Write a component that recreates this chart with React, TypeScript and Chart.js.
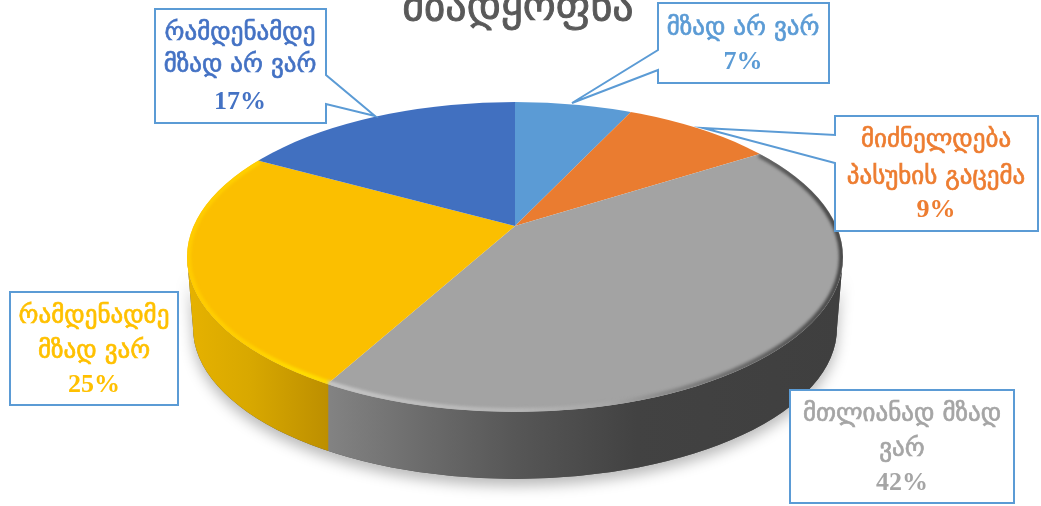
import React, { useEffect, useRef } from "react";
import { Chart, registerables } from "chart.js";

Chart.register(...registerables);

// ---------- data ----------
const titleText = "მზადყოფნა";
const categories = ["მზად არ ვარ", "მიძნელდება პასუხის გაცემა", "მთლიანად მზად ვარ", "რამდენადმე მზად ვარ", "რამდენამდე მზად არ ვარ"];
const categoryLines = [
  ["მზად არ ვარ"],
  ["მიძნელდება", "პასუხის გაცემა"],
  ["მთლიანად მზად", "ვარ"],
  ["რამდენადმე", "მზად ვარ"],
  ["რამდენამდე", "მზად არ ვარ"],
];
const values = [7, 9, 42, 25, 17];
const sliceColors = ["#5b9bd5", "#ea7c30", "#a3a3a3", "#fbbf00", "#4170c0"];
const textColors = ["#5b9bd5", "#ed7d31", "#a5a5a5", "#ffc000", "#4472c4"];

// ---------- layout of the drawing ----------
const W = 1041, H = 506;
const APEX = { x: 515, y: 226 };
const TOP = { x: 515, y: 257, rx: 328, ry: 155 };
const BOT = { x: 515, y: 328, rx: 322, ry: 151 };
const K = 0.463;
const SCALE_R = 430;
const FONT = '"DejaVu Sans"';

type Box = { x: number; y: number; w: number; h: number; cx: number; ys: number[]; tail?: { side: "l" | "r"; a: number; b: number; tx: number; ty: number } };
const boxes: Box[] = [
  { x: 658, y: 3, w: 171, h: 80, cx: 743, ys: [28, 62], tail: { side: "l", a: 50, b: 70, tx: 572, ty: 103 } },
  { x: 835, y: 116, w: 203, h: 115, cx: 936, ys: [140, 177, 210], tail: { side: "l", a: 135, b: 163, tx: 703, ty: 128 } },
  { x: 790, y: 390, w: 224, h: 113, cx: 902, ys: [414, 449, 483] },
  { x: 10, y: 292, w: 168, h: 113, cx: 94, ys: [316, 351, 385] },
  { x: 155, y: 9, w: 171, h: 114, cx: 240, ys: [33, 65, 102], tail: { side: "r", a: 75, b: 104, tx: 375, ty: 116 } },
];

// where a slice boundary (fraction of the full turn) meets the top ellipse
function edgePoint(frac: number) {
  const a = frac * Math.PI * 2;
  const dx = Math.sin(a), dy = -K * Math.cos(a);
  const ox = (APEX.x - TOP.x) / TOP.rx, oy = (APEX.y - TOP.y) / TOP.ry;
  const ux = dx / TOP.rx, uy = dy / TOP.ry;
  const A = ux * ux + uy * uy, B = 2 * (ox * ux + oy * uy), C = ox * ox + oy * oy - 1;
  const t = (-B + Math.sqrt(B * B - 4 * A * C)) / (2 * A);
  const x = APEX.x + dx * t, y = APEX.y + dy * t;
  return { x, y, param: Math.atan2((y - TOP.y) / TOP.ry, (x - TOP.x) / TOP.rx) };
}

function cumulative(n: number) {
  const total = values.reduce((s, v) => s + v, 0);
  return values.slice(0, n).reduce((s, v) => s + v, 0) / total;
}

function wallPath(ctx: CanvasRenderingContext2D) {
  ctx.beginPath();
  ctx.ellipse(TOP.x, TOP.y, TOP.rx, TOP.ry, 0, Math.PI, 0, true);
  ctx.lineTo(BOT.x + BOT.rx, BOT.y);
  ctx.ellipse(BOT.x, BOT.y, BOT.rx, BOT.ry, 0, 0, Math.PI, false);
  ctx.closePath();
}

const pie3d = {
  id: "pie3d",
  beforeDatasetsDraw(chart: any) {
    const ctx: CanvasRenderingContext2D = chart.ctx;
    const arc = chart.getDatasetMeta(0).data[0];
    const split = edgePoint(cumulative(3)).x;

    // drop shadow under the disc
    ctx.save();
    ctx.shadowColor = "rgba(0,0,0,0.28)";
    ctx.shadowBlur = 14;
    ctx.shadowOffsetY = 7;
    ctx.fillStyle = "#555";
    wallPath(ctx);
    ctx.fill();
    ctx.restore();

    // side wall
    const grayWall = ctx.createLinearGradient(split, 0, TOP.x + TOP.rx, 0);
    grayWall.addColorStop(0, "#838383");
    grayWall.addColorStop(0.19, "#6b6b6b");
    grayWall.addColorStop(0.37, "#565656");
    grayWall.addColorStop(0.6, "#424242");
    grayWall.addColorStop(1, "#3f3f3f");
    const yellowWall = ctx.createLinearGradient(TOP.x - TOP.rx, 0, split, 0);
    yellowWall.addColorStop(0, "#e6b200");
    yellowWall.addColorStop(0.45, "#d8a800");
    yellowWall.addColorStop(1, "#bd8f00");

    ctx.save();
    wallPath(ctx);
    ctx.clip();
    ctx.fillStyle = grayWall;
    ctx.fillRect(split, 0, W - split, H);
    ctx.fillStyle = yellowWall;
    ctx.fillRect(0, 0, split + 1, H);
    ctx.restore();

    // map the library's pie onto the tilted disc
    ctx.save();
    ctx.beginPath();
    ctx.ellipse(TOP.x, TOP.y, TOP.rx, TOP.ry, 0, 0, Math.PI * 2);
    ctx.clip();
    const s = SCALE_R / arc.outerRadius;
    ctx.translate(APEX.x, APEX.y);
    ctx.scale(s, s * K);
    ctx.translate(-arc.x, -arc.y);
  },
  afterDatasetsDraw(chart: any) {
    const ctx: CanvasRenderingContext2D = chart.ctx;
    ctx.restore();

    // bevel along the front rim
    const from = edgePoint(cumulative(2)).param;
    const to = edgePoint(cumulative(4)).param;
    const split = edgePoint(cumulative(3)).x;
    const f = (x: number) => (x - (TOP.x - TOP.rx)) / (2 * TOP.rx);
    const rim = ctx.createLinearGradient(TOP.x - TOP.rx, 0, TOP.x + TOP.rx, 0);
    rim.addColorStop(0, "#ffcc00");
    rim.addColorStop(f(250), "#ffd000");
    rim.addColorStop(f(split - 25), "#ffde00");
    rim.addColorStop(f(split), "#ffde00");
    rim.addColorStop(f(split + 2), "#c6c6c6");
    rim.addColorStop(f(520), "#b6b6b6");
    rim.addColorStop(f(610), "#a6a6a6");
    rim.addColorStop(f(700), "#777");
    rim.addColorStop(f(790), "#555");
    rim.addColorStop(1, "#444");
    ctx.save();
    ctx.beginPath();
    ctx.ellipse(TOP.x, TOP.y, TOP.rx, TOP.ry, 0, 0, Math.PI * 2);
    ctx.clip();
    (ctx as any).filter = "blur(1.5px)";
    ctx.strokeStyle = rim;
    ctx.lineWidth = 5;
    ctx.beginPath();
    ctx.ellipse(TOP.x, TOP.y, TOP.rx - 1.5, TOP.ry - 1.5, 0, from, to < from ? to + Math.PI * 2 : to);
    ctx.stroke();
    ctx.restore();

    // title, cut by the top of the picture
    ctx.save();
    ctx.fillStyle = "#595959";
    ctx.strokeStyle = "#595959";
    ctx.lineWidth = 0.9;
    ctx.font = `42px ${FONT}`;
    ctx.textAlign = "center";
    ctx.textBaseline = "alphabetic";
    ctx.fillText(titleText, 518, 20);
    ctx.strokeText(titleText, 518, 20);
    ctx.restore();

    // callouts
    boxes.forEach((b, i) => {
      ctx.save();
      ctx.beginPath();
      ctx.moveTo(b.x, b.y);
      ctx.lineTo(b.x + b.w, b.y);
      if (b.tail && b.tail.side === "r") {
        ctx.lineTo(b.x + b.w, b.tail.a);
        ctx.lineTo(b.tail.tx, b.tail.ty);
        ctx.lineTo(b.x + b.w, b.tail.b);
      }
      ctx.lineTo(b.x + b.w, b.y + b.h);
      ctx.lineTo(b.x, b.y + b.h);
      if (b.tail && b.tail.side === "l") {
        ctx.lineTo(b.x, b.tail.b);
        ctx.lineTo(b.tail.tx, b.tail.ty);
        ctx.lineTo(b.x, b.tail.a);
      }
      ctx.closePath();
      ctx.fillStyle = "#ffffff";
      ctx.fill();
      ctx.strokeStyle = "#5b9bd5";
      ctx.lineWidth = 2;
      ctx.stroke();

      ctx.fillStyle = textColors[i];
      ctx.strokeStyle = textColors[i];
      ctx.lineWidth = 0.7;
      ctx.textAlign = "center";
      ctx.textBaseline = "middle";
      ctx.font = `25px ${FONT}`;
      categoryLines[i].forEach((line, j) => {
        ctx.fillText(line, b.cx, b.ys[j]);
        ctx.strokeText(line, b.cx, b.ys[j]);
      });
      ctx.font = `bold 26px "Liberation Serif"`;
      ctx.fillText(`${values[i]}%`, b.cx, b.ys[categoryLines[i].length]);
      ctx.restore();
    });
  },
};

export default function App() {
  const ref = useRef<HTMLCanvasElement | null>(null);
  useEffect(() => {
    const chart = new Chart(ref.current!, {
      type: "pie",
      data: {
        labels: categories,
        datasets: [{ data: values, backgroundColor: sliceColors, borderWidth: 0 }],
      },
      options: {
        responsive: false,
        animation: false,
        layout: { padding: 0 },
        plugins: { legend: { display: false }, tooltip: { enabled: false }, title: { display: false } },
      },
      plugins: [pie3d],
    } as any);
    return () => chart.destroy();
  }, []);
  return (
    <div style={{ position: "absolute", left: 0, top: 0, width: W, height: H, background: "#fff" }}>
      <canvas ref={ref} width={W} height={H} style={{ display: "block" }} />
    </div>
  );
}
